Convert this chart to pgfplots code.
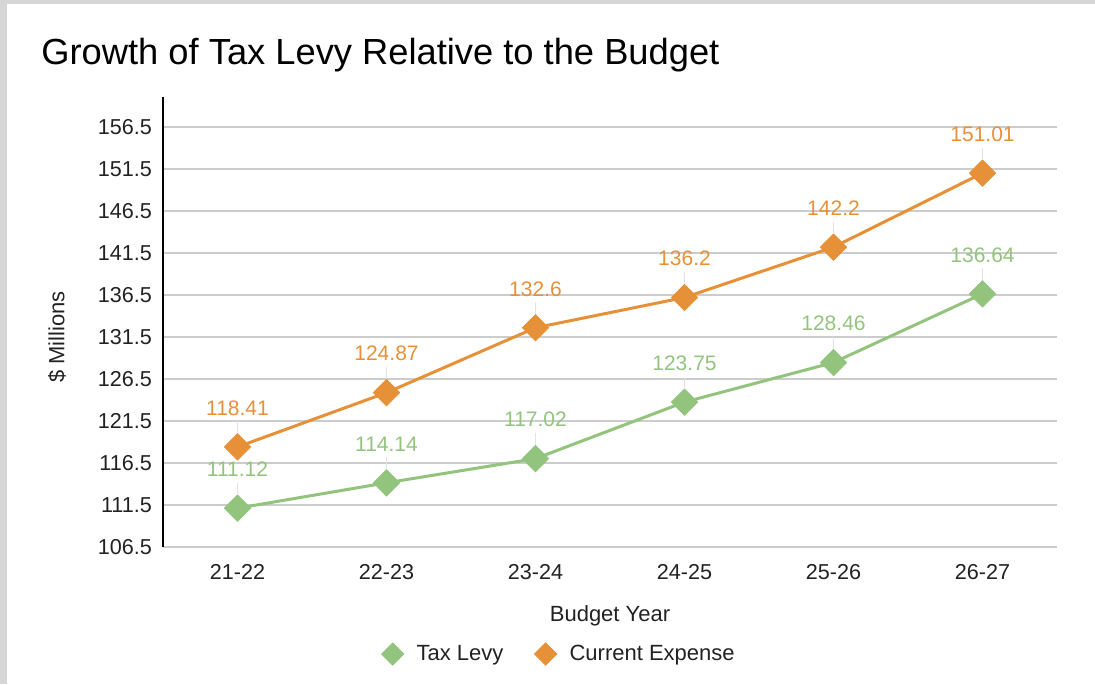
\documentclass[border=0pt]{standalone}
\usepackage{pgfplots}
\usepackage{pgfplotstable}
\pgfplotsset{compat=1.18}
\usepackage{fontspec}
\setmainfont{Liberation Sans}
\definecolor{cOrange}{HTML}{E69138}
\definecolor{cGreen}{HTML}{93C47D}
\definecolor{cGrid}{HTML}{CCCCCC}
\definecolor{cLeader}{HTML}{E3E3E3}
\definecolor{cFrame}{HTML}{D6D6D6}
\definecolor{cText}{HTML}{222222}

\pgfplotstableread{
x y lab
0 111.12 111.12
1 114.14 114.14
2 117.02 117.02
3 123.75 123.75
4 128.46 128.46
5 136.64 136.64
}\taxlevy
\pgfplotstableread{
x y lab
0 118.41 118.41
1 124.87 124.87
2 132.6 132.6
3 136.2 136.2
4 142.2 142.2
5 151.01 151.01
}\curexp

\begin{document}
\begin{tikzpicture}
\path[use as bounding box] (0,0) rectangle (547.5pt,342pt);
\fill[cFrame] (0,0) rectangle (3.5pt,342pt);
\fill[cFrame] (0,340pt) rectangle (547.5pt,342pt);
\node[anchor=base west, inner sep=0pt, font=\fontsize{18.15}{22}\selectfont, text=black] at (20.5pt,309.5pt) {Growth of Tax Levy Relative to the Budget};
\begin{axis}[
  at={(81.5pt,68.5pt)}, anchor=south west,
  scale only axis, width=447pt, height=225pt,
  xmin=-0.5, xmax=5.5, ymin=106.5, ymax=160.07,
  xtick={0,1,2,3,4,5},
  xticklabels={21-22,22-23,23-24,24-25,25-26,26-27},
  ytick={106.5,111.5,116.5,121.5,126.5,131.5,136.5,141.5,146.5,151.5,156.5},
  yticklabel style={/pgf/number format/fixed, /pgf/number format/fixed zerofill, /pgf/number format/precision=1, /pgf/number format/assume math mode=true, xshift=-2pt},
  ymajorgrids, grid style={cGrid, line width=0.75pt},
  axis x line*=bottom, axis y line*=left,
  x axis line style={cGrid, line width=0.75pt},
  y axis line style={black, line width=0.6pt},
  major tick length=0pt,
  tick label style={font=\fontsize{10.8}{13}\selectfont, text=cText},
  xticklabel style={yshift=-5pt},
  xlabel={Budget Year},
  ylabel={\$ Millions},
  label style={font=\fontsize{11}{13}\selectfont, text=cText},
  xlabel style={at={(axis description cs:0.5,-0.152)}, anchor=center},
  ylabel style={at={(axis description cs:-0.1186,0.4667)}, anchor=center},
  legend columns=2,
  legend style={draw=none, fill=none, at={(axis description cs:0.4425,-0.2378)}, anchor=center,
    font=\fontsize{11}{13}\selectfont, text=cText,
    /tikz/every even column/.append style={column sep=12pt}},
  legend image code/.code={\draw[mark repeat=2,mark phase=2,#1,draw=none,mark size=3.9pt] plot coordinates {(0cm,0cm)(0.25cm,0cm)(0.6cm,0cm)};},
  point meta=explicit symbolic,
  nodes near coords={\shortstack{\pgfplotspointmeta\\\textcolor{cLeader}{\rule{0.6pt}{6pt}}}},
  every node near coord/.append style={anchor=south, inner sep=0pt, yshift=6.5pt, font=\fontsize{10.5}{12}\selectfont},
]
\addplot[color=cGreen, line width=1.5pt, mark=square*, mark size=4.6pt,
  mark options={rotate=45, fill=cGreen, draw=cGreen, line width=0.5pt},
  nodes near coords style={text=cGreen}]
  table[x=x, y=y, meta=lab] {\taxlevy};
\addlegendentry{Tax Levy}
\addplot[color=cOrange, line width=1.5pt, mark=square*, mark size=4.6pt,
  mark options={rotate=45, fill=cOrange, draw=cOrange, line width=0.5pt},
  nodes near coords style={text=cOrange}]
  table[x=x, y=y, meta=lab] {\curexp};
\addlegendentry{Current Expense}
\end{axis}
\end{tikzpicture}
\end{document}
